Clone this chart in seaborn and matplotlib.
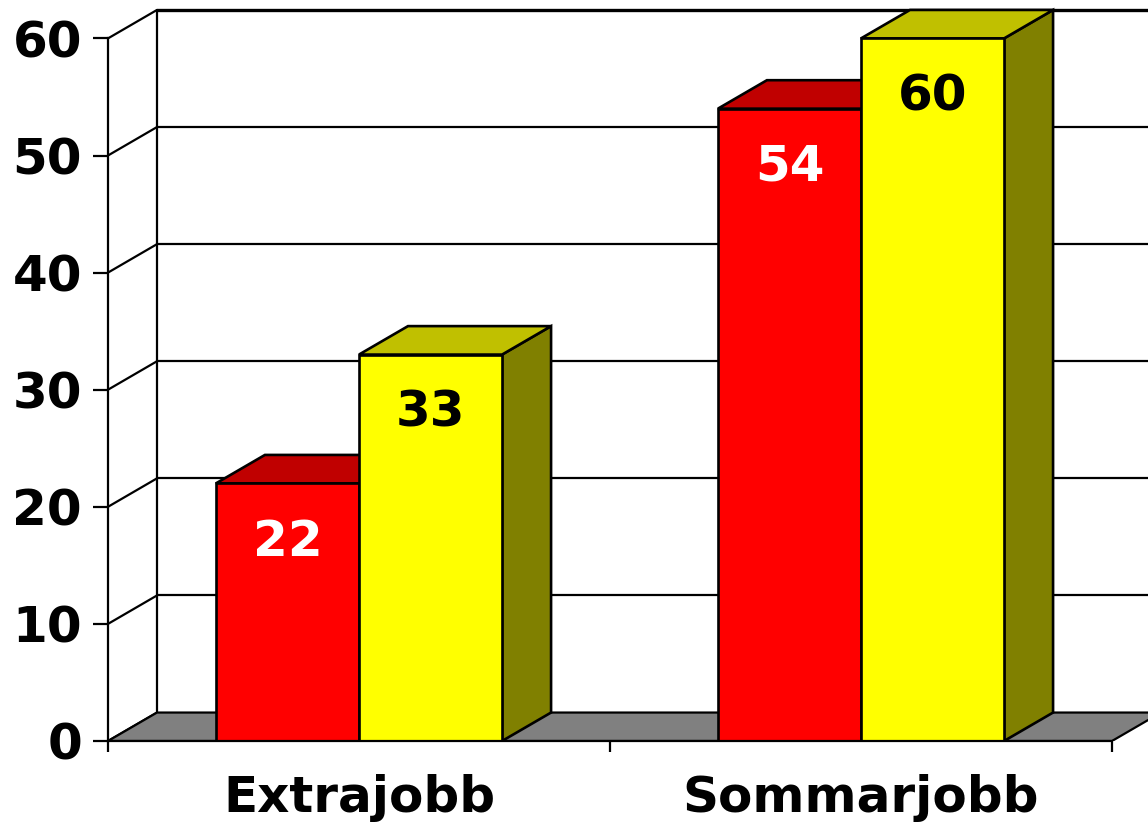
import pandas as pd
import seaborn as sns
import matplotlib
matplotlib.use("Agg")
import matplotlib.pyplot as plt
from matplotlib.patches import Polygon

# data
categories = ["Extrajobb", "Sommarjobb"]
series_names = ["Serie 1", "Serie 2"]
red_values = [22, 54]
yellow_values = [33, 60]
y_ticks = [0, 10, 20, 30, 40, 50, 60]

# colours per series: front face, top face, side face, value label
front_colors = ["#FF0000", "#FFFF00"]
top_colors = ["#C00000", "#C0C000"]
side_colors = ["#A00000", "#808000"]
label_colors = ["white", "black"]

df = pd.DataFrame({
    "category": categories * 2,
    "series": [series_names[0]] * len(categories) + [series_names[1]] * len(categories),
    "value": red_values + yellow_values,
})

sns.set_theme(style="white")
plt.rcParams["font.family"] = ["DejaVu Sans"]
plt.rcParams["font.weight"] = "bold"

# 3D look: depth offset (category units, value units)
DX = 0.0976
DY = 2.43
X_LEFT, X_RIGHT = -0.5, 1.5
LW = 1.6

fig = plt.figure(figsize=(11.48, 8.26), dpi=100)
ax = fig.add_axes([108 / 1148, 85 / 826, 1 - 108 / 1148, 741 / 826])

sns.barplot(data=df, x="category", y="value", hue="series", palette=front_colors,
            width=0.57, gap=0, saturation=1, edgecolor="black", linewidth=1.9,
            legend=False, ax=ax)

ax.set_xlim(X_LEFT, X_LEFT + 1040 / 502)
ax.set_ylim(0, 741 / 11.71)

# floor
floor = Polygon([(X_LEFT, 0), (X_RIGHT, 0), (X_RIGHT + DX, DY), (X_LEFT + DX, DY)],
                closed=True, facecolor="#808080", edgecolor="black", linewidth=LW, zorder=1.5)
ax.add_patch(floor)

# back wall gridlines, left wall diagonals, back corner
xmax = ax.get_xlim()[1]
for v in y_ticks:
    if v > 0:
        ax.plot([X_LEFT + DX, xmax], [v + DY, v + DY], color="black",
                lw=LW + (0.8 if v == y_ticks[-1] else 0), zorder=1)
    ax.plot([X_LEFT, X_LEFT + DX], [v, v + DY], color="black", lw=LW, zorder=1)
ax.plot([X_LEFT + DX, X_LEFT + DX], [DY, y_ticks[-1] + DY], color="black", lw=LW, zorder=1)

# top and side faces for each bar, plus value labels
for i, container in enumerate(ax.containers):
    for bar in container:
        x0 = bar.get_x()
        w = bar.get_width()
        h = bar.get_height()
        bar.set_zorder(3 + 2 * i)
        top = Polygon([(x0, h), (x0 + w, h), (x0 + w + DX, h + DY), (x0 + DX, h + DY)],
                      closed=True, facecolor=top_colors[i], edgecolor="black",
                      linewidth=1.9, zorder=2.5 + 2 * i)
        side = Polygon([(x0 + w, 0), (x0 + w + DX, DY), (x0 + w + DX, h + DY), (x0 + w, h)],
                       closed=True, facecolor=side_colors[i], edgecolor="black",
                       linewidth=1.9, zorder=2.5 + 2 * i)
        ax.add_patch(side)
        ax.add_patch(top)
        ax.annotate(f"{h:.0f}", (x0 + w / 2, h), xytext=(0, -42), textcoords="offset points",
                    ha="center", va="center", fontsize=36, fontweight="bold",
                    color=label_colors[i], zorder=10)

# axes styling
for s in ["top", "right"]:
    ax.spines[s].set_visible(False)
ax.spines["left"].set_bounds(0, y_ticks[-1])
ax.spines["bottom"].set_bounds(X_LEFT, X_RIGHT)
for s in ["left", "bottom"]:
    ax.spines[s].set_color("black")
    ax.spines[s].set_linewidth(LW)
    ax.spines[s].set_zorder(8)

ax.set_yticks(y_ticks)
ax.tick_params(axis="y", length=10.8, width=LW, direction="out", pad=8,
               labelsize=36, colors="black", left=True)
for lbl in ax.get_yticklabels():
    lbl.set_fontweight("bold")

ax.set_xticks([X_LEFT, 0.5, X_RIGHT], labels=["", "", ""])
ax.tick_params(axis="x", length=7.9, width=LW, direction="out", colors="black", bottom=True)
for j, cat in enumerate(categories):
    ax.annotate(cat, (j, 0), xytext=(0, -51), textcoords="offset points",
                ha="center", va="baseline", fontsize=36, fontweight="bold",
                color="black", annotation_clip=False)

ax.set_xlabel("")
ax.set_ylabel("")

fig.savefig("out.png", dpi=100)
plt.close(fig)
